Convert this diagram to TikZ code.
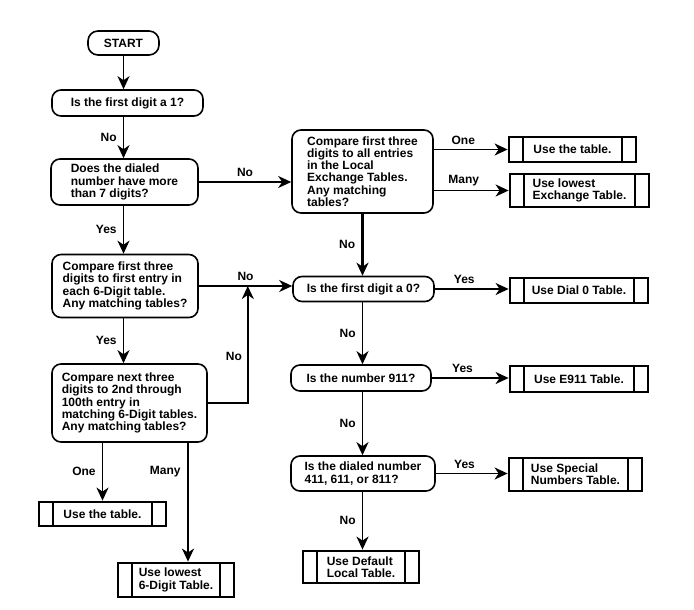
\documentclass[tikz,border=0pt]{standalone}
\usepackage{fontspec}
\setmainfont{Liberation Sans}
\usetikzlibrary{arrows.meta}

\tikzset{
  ask/.style={draw, fill=white, line width=1.6pt, rounded corners=9pt, align=left, inner xsep=2pt, inner ysep=2pt},
  usebox/.style={draw, fill=white, line width=2.8pt, align=left, inner xsep=2pt, inner ysep=2pt,
    path picture={
      \draw[line width=2pt] ([xshift=14pt]path picture bounding box.north west) -- ([xshift=14pt]path picture bounding box.south west);
      \draw[line width=2pt] ([xshift=-14pt]path picture bounding box.north east) -- ([xshift=-14pt]path picture bounding box.south east);
    }},
  flow/.style={line width=1.8pt, -{Stealth[length=13pt, width=12pt, inset=4pt]}},
  heavy/.style={flow, line width=2.8pt},
  lbl/.style={inner sep=1pt}
}

\begin{document}
\begin{tikzpicture}[x=1pt, y=-1pt, font=\fontsize{12}{12.3}\selectfont\bfseries]
    \useasboundingbox (0,0) rectangle (694,610);

    % COLUMNA ESQUERRA
    \node[ask, minimum width=71pt, minimum height=24pt, rounded corners=10pt] (start) at (123.5,43) {START};
    \node[ask, minimum width=151pt, minimum height=26pt] (first1) at (127.5,103) {Is the first digit a 1?};
    \node[ask, minimum width=147pt, minimum height=46pt] (more7) at (124.5,182) {Does the dialed\\number have more\\than 7 digits?};
    \node[ask, minimum width=146pt, minimum height=63pt] (six) at (125,286) {Compare first three\\digits to first entry in\\each 6-Digit table.\\Any matching tables?};
    \node[ask, minimum width=155pt, minimum height=78pt] (next) at (129.5,403) {Compare next three\\digits to 2nd through\\100th entry in\\matching 6-Digit tables.\\Any matching tables?};
    \node[usebox, minimum width=127pt, minimum height=24pt] (sixone) at (102.5,514) {Use the table.};
    \node[usebox, minimum width=116pt, minimum height=34pt] (sixmany) at (176,580) {Use lowest\\6-Digit Table.};

    % COLUMNA DRETA
    \node[ask, minimum width=141pt, minimum height=83pt] (local) at (362.5,171.5) {Compare first three\\digits to all entries\\in the Local\\Exchange Tables.\\Any matching\\tables?};
    \node[ask, minimum width=141pt, minimum height=25pt] (first0) at (363.5,289) {Is the first digit a 0?};
    \node[ask, minimum width=140pt, minimum height=26pt] (is911) at (361,378) {Is the number 911?};
    \node[ask, minimum width=144pt, minimum height=35pt] (special) at (363,473.5) {Is the dialed number\\411, 611, or 811?};
    \node[usebox, minimum width=116pt, minimum height=32pt] (deflt) at (361,567) {Use Default\\Local Table.};

    % TAULES
    \node[usebox, minimum width=127pt, minimum height=25pt] (locone) at (572.5,149.5) {Use the table.};
    \node[usebox, minimum width=139pt, minimum height=33pt] (locmany) at (579.5,190.5) {Use lowest\\Exchange Table.};
    \node[usebox, minimum width=138pt, minimum height=25pt] (dial0) at (579,290.5) {Use Dial 0 Table.};
    \node[usebox, minimum width=138pt, minimum height=26pt] (e911) at (579,379) {Use E911 Table.};
    \node[usebox, minimum width=133pt, minimum height=33pt] (spec) at (575.5,474.5) {Use Special\\Numbers Table.};

    % FLETXES ESQUERRA
    \draw[flow] (start.south) -- (start.south |- first1.north);
    \draw[flow] (start.south |- first1.south) -- node[lbl, left=5pt] {No} (start.south |- more7.north);
    \draw[flow] (start.south |- more7.south) -- node[lbl, left=5pt] {Yes} (start.south |- six.north);
    \draw[flow] (start.south |- six.south) -- node[lbl, left=5pt] {Yes} (start.south |- next.north);
    \draw[flow] (more7.east) -- node[lbl, above=3pt] {No} (more7.east -| local.west);
    \draw[flow] (six.east) -- node[lbl, above=3pt] {No} (six.east -| first0.west);
    \coordinate (rise) at ([xshift=49pt]six.east);
    \draw[flow] (next.east) -| node[lbl, pos=0.7, left=4pt] {No} (rise);
    \draw[flow] (sixone.north |- next.south) -- node[lbl, left=5pt] {One} (sixone.north);
    \draw[heavy] ([xshift=12pt]sixmany.north |- next.south) -- node[lbl, pos=0.24, left=5pt] {Many} ([xshift=12pt]sixmany.north);

    % FLETXES DRETA
    \draw[flow] (locone.west -| local.east) -- node[lbl, pos=0.4, above=3pt] {One} (locone.west);
    \draw[flow] (locmany.west -| local.east) -- node[lbl, pos=0.4, above=3pt] {Many} (locmany.west);
    \draw[heavy] (local.south) -- node[lbl, left=5pt] {No} (local.south |- first0.north);
    \draw[flow] (first0.east) -- node[lbl, pos=0.4, above=3pt] {Yes} (first0.east -| dial0.west);
    \draw[flow] (local.south |- first0.south) -- node[lbl, left=5pt] {No} (local.south |- is911.north);
    \draw[flow] (is911.east) -- node[lbl, pos=0.4, above=3pt] {Yes} (is911.east -| e911.west);
    \draw[flow] (local.south |- is911.south) -- node[lbl, left=5pt] {No} (local.south |- special.north);
    \draw[flow] (special.east) -- node[lbl, pos=0.4, above=3pt] {Yes} (special.east -| spec.west);
    \draw[flow] (local.south |- special.south) -- node[lbl, left=5pt] {No} (local.south |- deflt.north);

\end{tikzpicture}
\end{document}
